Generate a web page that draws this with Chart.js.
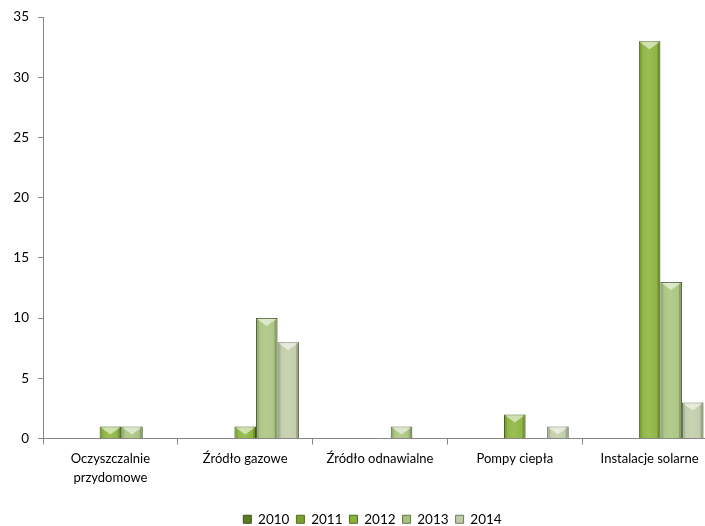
<!DOCTYPE html>
<html>
<head>
<meta charset="utf-8">
<script src="https://cdn.jsdelivr.net/npm/chart.js@4/dist/chart.umd.min.js"></script>
<style>
  html, body { margin: 0; padding: 0; background: #ffffff; overflow: hidden; }
  #wrap { width: 705px; height: 526px; overflow: hidden; position: relative; }
  #box { position: absolute; left: 0; top: 0; width: 746px; height: 536px; }
</style>
</head>
<body>
<div id="wrap"><div id="box"><canvas id="c" width="746" height="536"></canvas></div></div>
<script>
const categories = [["Oczyszczalnie", "przydomowe"], "Źródło gazowe", "Źródło odnawialne", "Pompy ciepła", "Instalacje solarne"];
const seriesNames = ["2010", "2011", "2012", "2013", "2014"];
const values2010 = [0, 0, 0, 0, 0];
const values2011 = [0, 0, 0, 0, 0];
const values2012 = [1, 1, 0, 2, 33];
const values2013 = [1, 10, 1, 0, 13];
const values2014 = [0, 8, 0, 1, 3];
const yTicks = [0, 5, 10, 15, 20, 25, 30, 35];

const fills = ["#5b7d22", "#78a22f", "#8ab33a", "#a9c37e", "#bfcca7"];
const borders = ["#3a5015", "#4f6e1c", "#4d6a1c", "#5e7546", "#6e7a5e"];
const allValues = [values2010, values2011, values2012, values2013, values2014];

const FONT = "Lato, 'Open Sans', sans-serif";

const bevel = {
  id: 'bevel',
  afterDatasetsDraw(chart) {
    const ctx = chart.ctx;
    chart.getSortedVisibleDatasetMetas().forEach(meta => {
      meta.data.forEach(el => {
        const p = el.getProps(['x', 'y', 'base', 'width'], true);
        const h = p.base - p.y;
        if (h <= 0.5) return;
        const l = p.x - p.width / 2, r = p.x + p.width / 2;
        ctx.save();
        ctx.beginPath();
        ctx.rect(l, p.y, p.width, h);
        ctx.clip();
        ctx.fillStyle = 'rgba(0,0,0,0.12)';
        ctx.fillRect(l, p.y, 3, h);
        ctx.fillStyle = 'rgba(0,0,0,0.2)';
        ctx.fillRect(r - 3, p.y, 3, h);
        const g = ctx.createLinearGradient(l, 0, r, 0);
        g.addColorStop(0, 'rgba(255,255,255,0)');
        g.addColorStop(0.45, 'rgba(255,255,255,0.14)');
        g.addColorStop(1, 'rgba(255,255,255,0)');
        ctx.fillStyle = g;
        ctx.fillRect(l, p.y, p.width, h);
        const d = Math.min(8, h - 1);
        ctx.beginPath();
        ctx.moveTo(l + 1, p.y + 1);
        ctx.lineTo(r - 1, p.y + 1);
        ctx.lineTo(p.x, p.y + d);
        ctx.closePath();
        ctx.fillStyle = 'rgba(255,255,255,0.55)';
        ctx.fill();
        ctx.restore();
      });
    });
  }
};

const legendShift = {
  id: 'legendShift',
  afterLayout(chart) {
    const lg = chart.legend;
    if (lg) { lg.left += 14; lg.right += 14; }
  }
};

new Chart(document.getElementById('c'), {
  type: 'bar',
  data: {
    labels: categories,
    datasets: seriesNames.map((name, i) => ({
      label: name,
      data: allValues[i],
      backgroundColor: fills[i],
      borderColor: borders[i],
      borderWidth: 1,
      categoryPercentage: 0.8,
      barPercentage: 1.0
    }))
  },
  options: {
    responsive: false,
    animation: false,
    devicePixelRatio: 1,
    layout: { padding: { top: 17, left: 0, right: 29, bottom: 0 } },
    plugins: {
      title: { display: false },
      tooltip: { enabled: false },
      legend: {
        position: 'bottom',
        labels: {
          boxWidth: 8,
          boxHeight: 8,
          padding: 7,
          color: '#000000',
          font: { family: FONT, size: 13.5 },
          generateLabels(chart) {
            return chart.data.datasets.map((ds, i) => ({
              text: ds.label,
              fillStyle: ds.backgroundColor,
              strokeStyle: ds.borderColor,
              lineWidth: 1,
              datasetIndex: i,
              fontColor: '#000000'
            }));
          }
        }
      }
    },
    scales: {
      x: {
        grid: { display: true, drawOnChartArea: false, offset: true, tickLength: 6, color: '#868686' },
        border: { color: '#868686', width: 1 },
        ticks: { color: '#000000', font: { family: FONT, size: 13, lineHeight: 1.45 }, padding: 5, maxRotation: 0, autoSkip: false },
        afterFit(s) { s.height = 67; }
      },
      y: {
        min: 0,
        max: 35,
        afterBuildTicks(s) { s.ticks = yTicks.map(v => ({ value: v })); },
        grid: { display: true, drawOnChartArea: false, tickLength: 5, color: '#868686' },
        border: { color: '#868686', width: 1 },
        ticks: { color: '#000000', font: { family: FONT, size: 13.5 }, padding: 9 },
        afterFit(s) { s.width = 43; }
      }
    }
  },
  plugins: [bevel, legendShift]
});
</script>
</body>
</html>
